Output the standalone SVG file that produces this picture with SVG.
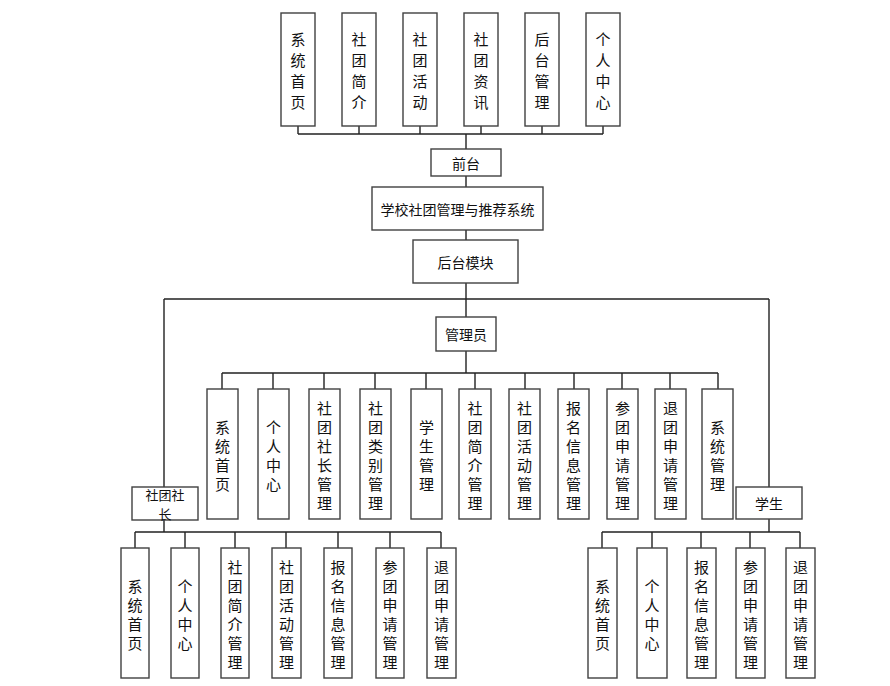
<svg xmlns="http://www.w3.org/2000/svg" width="890" height="686" viewBox="0 0 890 686">
<style>
.box{fill:#fff;stroke:#404040;stroke-width:1.4}
.t{font-family:"Noto Sans CJK SC","Liberation Sans",sans-serif;fill:#111;text-anchor:middle;dominant-baseline:central}
.v{font-size:15px}
.h{font-size:14px}
.s{font-size:13px}
.ln{stroke:#222;stroke-width:1.4;fill:none}
</style>
<rect width="890" height="686" fill="#fff"/>
<g id="connectors">
<path class="ln" d="M298 126V134M359 126V134M420 126V134M481 126V134M542 126V134M603 126V134M298 134H603M466 134V149M466 176V187M466 230V240M466 283V317M164 299H769M164 299V487M769 299V487"/>
<path class="ln" d="M466 351V373M222 373H718M222 373V389M273 373V389M324 373V389M375 373V389M426 373V389M475 373V389M525 373V389M574 373V389M622 373V389M670 373V389M718 373V389"/>
<path class="ln" d="M164 520V532M135 532H441M135 532V548M185 532V548M235 532V548M286 532V548M338 532V548M390 532V548M441 532V548"/>
<path class="ln" d="M769 519V532M602 532H800M602 532V548M652 532V548M701 532V548M750 532V548M800 532V548"/>
</g>
<g id="top1"><rect class="box" x="281" y="13" width="34" height="113"/><text class="t v"><tspan x="298" y="38">系</tspan><tspan x="298" y="59">统</tspan><tspan x="298" y="80">首</tspan><tspan x="298" y="101">页</tspan></text></g>
<g id="top2"><rect class="box" x="342" y="13" width="34" height="113"/><text class="t v"><tspan x="359" y="38">社</tspan><tspan x="359" y="59">团</tspan><tspan x="359" y="80">简</tspan><tspan x="359" y="101">介</tspan></text></g>
<g id="top3"><rect class="box" x="403" y="13" width="34" height="113"/><text class="t v"><tspan x="420" y="38">社</tspan><tspan x="420" y="59">团</tspan><tspan x="420" y="80">活</tspan><tspan x="420" y="101">动</tspan></text></g>
<g id="top4"><rect class="box" x="464" y="13" width="34" height="113"/><text class="t v"><tspan x="481" y="38">社</tspan><tspan x="481" y="59">团</tspan><tspan x="481" y="80">资</tspan><tspan x="481" y="101">讯</tspan></text></g>
<g id="top5"><rect class="box" x="525" y="13" width="34" height="113"/><text class="t v"><tspan x="542" y="38">后</tspan><tspan x="542" y="59">台</tspan><tspan x="542" y="80">管</tspan><tspan x="542" y="101">理</tspan></text></g>
<g id="top6"><rect class="box" x="586" y="13" width="34" height="113"/><text class="t v"><tspan x="603" y="38">个</tspan><tspan x="603" y="59">人</tspan><tspan x="603" y="80">中</tspan><tspan x="603" y="101">心</tspan></text></g>
<g id="qiantai"><rect class="box" x="431" y="149" width="70" height="27"/><text class="t h" x="466" y="162.5">前台</text></g>
<g id="system"><rect class="box" x="372" y="187" width="171" height="43"/><text class="t h" x="457.5" y="208.5">学校社团管理与推荐系统</text></g>
<g id="houtai"><rect class="box" x="413" y="240" width="105" height="43"/><text class="t h" x="465.5" y="261.5">后台模块</text></g>
<g id="admin"><rect class="box" x="436" y="317" width="60" height="34"/><text class="t h" x="466" y="334">管理员</text></g>
<g id="a1"><rect class="box" x="207" y="389" width="31" height="130"/><text class="t v"><tspan x="222.5" y="425.5">系</tspan><tspan x="222.5" y="444.5">统</tspan><tspan x="222.5" y="463.5">首</tspan><tspan x="222.5" y="482.5">页</tspan></text></g>
<g id="a2"><rect class="box" x="258" y="389" width="31" height="130"/><text class="t v"><tspan x="273.5" y="425.5">个</tspan><tspan x="273.5" y="444.5">人</tspan><tspan x="273.5" y="463.5">中</tspan><tspan x="273.5" y="482.5">心</tspan></text></g>
<g id="a3"><rect class="box" x="309" y="389" width="31" height="130"/><text class="t v"><tspan x="324.5" y="406.5">社</tspan><tspan x="324.5" y="425.5">团</tspan><tspan x="324.5" y="444.5">社</tspan><tspan x="324.5" y="463.5">长</tspan><tspan x="324.5" y="482.5">管</tspan><tspan x="324.5" y="501.5">理</tspan></text></g>
<g id="a4"><rect class="box" x="360" y="389" width="31" height="130"/><text class="t v"><tspan x="375.5" y="406.5">社</tspan><tspan x="375.5" y="425.5">团</tspan><tspan x="375.5" y="444.5">类</tspan><tspan x="375.5" y="463.5">别</tspan><tspan x="375.5" y="482.5">管</tspan><tspan x="375.5" y="501.5">理</tspan></text></g>
<g id="a5"><rect class="box" x="411" y="389" width="31" height="130"/><text class="t v"><tspan x="426.5" y="425.5">学</tspan><tspan x="426.5" y="444.5">生</tspan><tspan x="426.5" y="463.5">管</tspan><tspan x="426.5" y="482.5">理</tspan></text></g>
<g id="a6"><rect class="box" x="459" y="389" width="32" height="130"/><text class="t v"><tspan x="475" y="406.5">社</tspan><tspan x="475" y="425.5">团</tspan><tspan x="475" y="444.5">简</tspan><tspan x="475" y="463.5">介</tspan><tspan x="475" y="482.5">管</tspan><tspan x="475" y="501.5">理</tspan></text></g>
<g id="a7"><rect class="box" x="509" y="389" width="31" height="130"/><text class="t v"><tspan x="524.5" y="406.5">社</tspan><tspan x="524.5" y="425.5">团</tspan><tspan x="524.5" y="444.5">活</tspan><tspan x="524.5" y="463.5">动</tspan><tspan x="524.5" y="482.5">管</tspan><tspan x="524.5" y="501.5">理</tspan></text></g>
<g id="a8"><rect class="box" x="558" y="389" width="31" height="130"/><text class="t v"><tspan x="573.5" y="406.5">报</tspan><tspan x="573.5" y="425.5">名</tspan><tspan x="573.5" y="444.5">信</tspan><tspan x="573.5" y="463.5">息</tspan><tspan x="573.5" y="482.5">管</tspan><tspan x="573.5" y="501.5">理</tspan></text></g>
<g id="a9"><rect class="box" x="607" y="389" width="31" height="130"/><text class="t v"><tspan x="622.5" y="406.5">参</tspan><tspan x="622.5" y="425.5">团</tspan><tspan x="622.5" y="444.5">申</tspan><tspan x="622.5" y="463.5">请</tspan><tspan x="622.5" y="482.5">管</tspan><tspan x="622.5" y="501.5">理</tspan></text></g>
<g id="a10"><rect class="box" x="655" y="389" width="31" height="130"/><text class="t v"><tspan x="670.5" y="406.5">退</tspan><tspan x="670.5" y="425.5">团</tspan><tspan x="670.5" y="444.5">申</tspan><tspan x="670.5" y="463.5">请</tspan><tspan x="670.5" y="482.5">管</tspan><tspan x="670.5" y="501.5">理</tspan></text></g>
<g id="a11"><rect class="box" x="702" y="389" width="31" height="130"/><text class="t v"><tspan x="717.5" y="425.5">系</tspan><tspan x="717.5" y="444.5">统</tspan><tspan x="717.5" y="463.5">管</tspan><tspan x="717.5" y="482.5">理</tspan></text></g>
<g id="leader"><rect class="box" x="132" y="487" width="66" height="33"/><text class="t s" x="165" y="494">社团社</text><text class="t s" x="165" y="513">长</text></g>
<g id="student"><rect class="box" x="736" y="487" width="66" height="32"/><text class="t h" x="769" y="503">学生</text></g>
<g id="l1"><rect class="box" x="121" y="548" width="28" height="130"/><text class="t v"><tspan x="135" y="584.5">系</tspan><tspan x="135" y="603.5">统</tspan><tspan x="135" y="622.5">首</tspan><tspan x="135" y="641.5">页</tspan></text></g>
<g id="l2"><rect class="box" x="171" y="548" width="28" height="130"/><text class="t v"><tspan x="185" y="584.5">个</tspan><tspan x="185" y="603.5">人</tspan><tspan x="185" y="622.5">中</tspan><tspan x="185" y="641.5">心</tspan></text></g>
<g id="l3"><rect class="box" x="221" y="548" width="28" height="130"/><text class="t v"><tspan x="235" y="565.5">社</tspan><tspan x="235" y="584.5">团</tspan><tspan x="235" y="603.5">简</tspan><tspan x="235" y="622.5">介</tspan><tspan x="235" y="641.5">管</tspan><tspan x="235" y="660.5">理</tspan></text></g>
<g id="l4"><rect class="box" x="272" y="548" width="29" height="130"/><text class="t v"><tspan x="286.5" y="565.5">社</tspan><tspan x="286.5" y="584.5">团</tspan><tspan x="286.5" y="603.5">活</tspan><tspan x="286.5" y="622.5">动</tspan><tspan x="286.5" y="641.5">管</tspan><tspan x="286.5" y="660.5">理</tspan></text></g>
<g id="l5"><rect class="box" x="324" y="548" width="28" height="130"/><text class="t v"><tspan x="338" y="565.5">报</tspan><tspan x="338" y="584.5">名</tspan><tspan x="338" y="603.5">信</tspan><tspan x="338" y="622.5">息</tspan><tspan x="338" y="641.5">管</tspan><tspan x="338" y="660.5">理</tspan></text></g>
<g id="l6"><rect class="box" x="376" y="548" width="28" height="130"/><text class="t v"><tspan x="390" y="565.5">参</tspan><tspan x="390" y="584.5">团</tspan><tspan x="390" y="603.5">申</tspan><tspan x="390" y="622.5">请</tspan><tspan x="390" y="641.5">管</tspan><tspan x="390" y="660.5">理</tspan></text></g>
<g id="l7"><rect class="box" x="427" y="548" width="29" height="130"/><text class="t v"><tspan x="441.5" y="565.5">退</tspan><tspan x="441.5" y="584.5">团</tspan><tspan x="441.5" y="603.5">申</tspan><tspan x="441.5" y="622.5">请</tspan><tspan x="441.5" y="641.5">管</tspan><tspan x="441.5" y="660.5">理</tspan></text></g>
<g id="s1"><rect class="box" x="588" y="548" width="29" height="130"/><text class="t v"><tspan x="602.5" y="584.5">系</tspan><tspan x="602.5" y="603.5">统</tspan><tspan x="602.5" y="622.5">首</tspan><tspan x="602.5" y="641.5">页</tspan></text></g>
<g id="s2"><rect class="box" x="637" y="548" width="30" height="130"/><text class="t v"><tspan x="652" y="584.5">个</tspan><tspan x="652" y="603.5">人</tspan><tspan x="652" y="622.5">中</tspan><tspan x="652" y="641.5">心</tspan></text></g>
<g id="s3"><rect class="box" x="687" y="548" width="29" height="130"/><text class="t v"><tspan x="701.5" y="565.5">报</tspan><tspan x="701.5" y="584.5">名</tspan><tspan x="701.5" y="603.5">信</tspan><tspan x="701.5" y="622.5">息</tspan><tspan x="701.5" y="641.5">管</tspan><tspan x="701.5" y="660.5">理</tspan></text></g>
<g id="s4"><rect class="box" x="736" y="548" width="29" height="130"/><text class="t v"><tspan x="750.5" y="565.5">参</tspan><tspan x="750.5" y="584.5">团</tspan><tspan x="750.5" y="603.5">申</tspan><tspan x="750.5" y="622.5">请</tspan><tspan x="750.5" y="641.5">管</tspan><tspan x="750.5" y="660.5">理</tspan></text></g>
<g id="s5"><rect class="box" x="786" y="548" width="29" height="130"/><text class="t v"><tspan x="800.5" y="565.5">退</tspan><tspan x="800.5" y="584.5">团</tspan><tspan x="800.5" y="603.5">申</tspan><tspan x="800.5" y="622.5">请</tspan><tspan x="800.5" y="641.5">管</tspan><tspan x="800.5" y="660.5">理</tspan></text></g>
</svg>
